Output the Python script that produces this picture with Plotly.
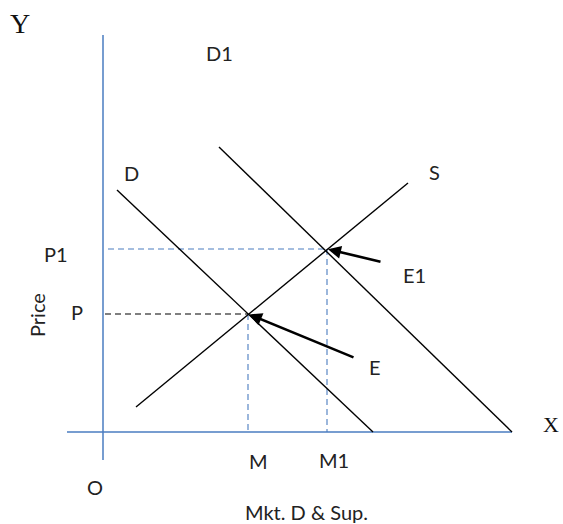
import plotly.graph_objects as go

# Market demand & supply diagram (quantity on X, price on Y)
axis_x = [-3.6, 40.9]          # extent of the X axis (at price 0)
axis_y = [-2.8, 39.7]          # extent of the Y axis (at quantity 0)

demand_x = [1.4, 27.0]
demand_y = [24.2, 0.0]
demand1_x = [11.6, 40.9]
demand1_y = [28.5, 0.0]
supply_x = [3.3, 30.5]
supply_y = [2.5, 24.9]

eq_e = (14.5, 11.8)            # E  (M, P)
eq_e1 = (22.4, 18.3)           # E1 (M1, P1)
arrow_e_tail = (25.2, 7.4)
arrow_e1_tail = (27.9, 17.0)

AXIS_BLUE = "#4a7cc0"
FONT = "Lato, Open Sans, sans-serif"

fig = go.Figure()

def seg(xs, ys, color="black", width=1.4, dash="solid"):
    fig.add_trace(go.Scatter(x=xs, y=ys, mode="lines",
                             line=dict(color=color, width=width, dash=dash),
                             hoverinfo="skip", showlegend=False))

# axes
seg([0, 0], axis_y, AXIS_BLUE, 1.5)
seg(axis_x, [0, 0], AXIS_BLUE, 1.5)

# guide lines
seg([0.2, eq_e[0]], [eq_e[1], eq_e[1]], "black", 1.2, "6px,4px")
seg([eq_e[0], eq_e[0]], [eq_e[1], 0], AXIS_BLUE, 1.1, "6px,4px")
seg([0.5, eq_e1[0]], [eq_e1[1], eq_e1[1]], AXIS_BLUE, 1.1, "6px,4px")
seg([eq_e1[0], eq_e1[0]], [eq_e1[1], 0], AXIS_BLUE, 1.1, "6px,4px")

# curves
seg(demand_x, demand_y)
seg(demand1_x, demand1_y)
seg(supply_x, supply_y)

labels = [
    ("D1", 11.65, 37.95), ("D", 2.85, 25.95), ("S", 33.1, 26.0),
    ("P1", -4.7, 17.8), ("P", -2.6, 12.0),
    ("E1", 31.1, 15.7), ("E", 27.2, 6.55),
    ("M", 15.5, -2.9), ("M1", 23.1, -2.8), ("O", -0.8, -5.5),
    ("Mkt. D & Sup.", 20.3, -8.0),
]
for txt, x, y in labels:
    fig.add_annotation(x=x, y=y, text=txt, showarrow=False,
                       font=dict(family=FONT, size=20, color="#222"))

fig.add_annotation(x=-6.6, y=11.7, text="Price", textangle=-90, showarrow=False,
                   font=dict(family=FONT, size=20, color="#222"))
fig.add_annotation(x=-8.3, y=40.9, text="Y", showarrow=False,
                   font=dict(family="Liberation Serif, serif", size=28, color="#111"))
fig.add_annotation(x=44.8, y=0.8, text="X", showarrow=False,
                   font=dict(family="Liberation Serif, serif", size=22, color="#111"))

# arrows pointing at the equilibria
for head, tail in [(eq_e, arrow_e_tail), (eq_e1, arrow_e1_tail)]:
    fig.add_annotation(x=head[0], y=head[1], ax=tail[0], ay=tail[1],
                       xref="x", yref="y", axref="x", ayref="y",
                       showarrow=True, arrowhead=2, arrowsize=1.0, arrowwidth=2.6,
                       arrowcolor="black", text="", standoff=1)

fig.update_layout(
    width=563, height=524, margin=dict(l=0, r=0, t=0, b=0),
    paper_bgcolor="white", plot_bgcolor="white",
    xaxis=dict(range=[-10.3, 46.0], visible=False, fixedrange=True),
    yaxis=dict(range=[-9.2, 43.2], visible=False, fixedrange=True),
)

fig.write_html("out.html")
